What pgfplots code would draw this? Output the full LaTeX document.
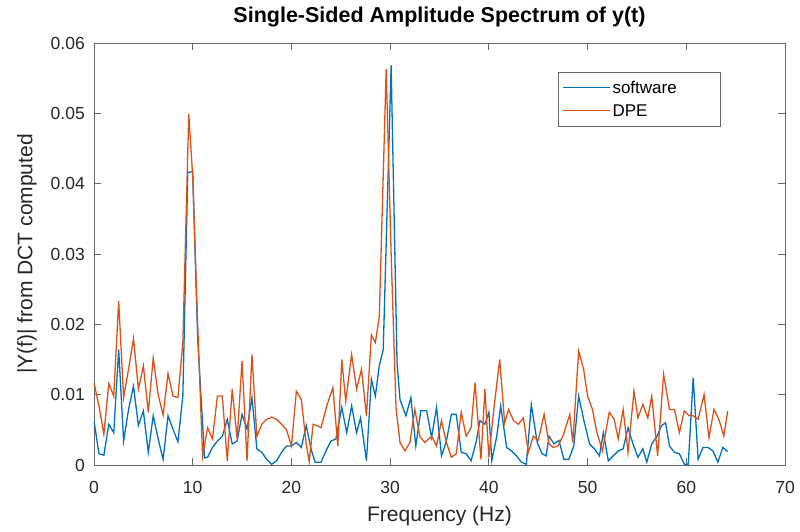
\documentclass[border=0pt]{standalone}
\usepackage{fontspec}
\setmainfont{Liberation Sans}
\usepackage{pgfplots}
\pgfplotsset{compat=1.18}
\definecolor{mblue}{rgb}{0,0.447,0.741}
\definecolor{morange}{rgb}{0.850,0.325,0.098}
\definecolor{axgray}{rgb}{0.15,0.15,0.15}
\pgfplotsset{
  softstyle/.style={color=mblue, line width=1.3pt},
  dpestyle/.style={color=morange, line width=1.3pt},
  legend image code/.code={\path (0pt,0pt) -- (47pt,0pt); \draw[#1, line width=1.3pt] (8pt,0pt) -- (47pt,0pt);},
}
\begin{document}
\begin{tikzpicture}
\useasboundingbox (-94pt,-66pt) rectangle (706pt,465pt);
\begin{axis}[
  at={(0pt,0pt)}, anchor=south west,
  scale only axis, width=691pt, height=422pt,
  xmin=0, xmax=70, ymin=0, ymax=0.06,
  xtick={0,10,20,30,40,50,60,70},
  ytick={0,0.01,0.02,0.03,0.04,0.05,0.06},
  yticklabels={0,0.01,0.02,0.03,0.04,0.05,0.06},
  scaled y ticks=false,
  /pgf/number format/assume math mode=true,
  tick pos=both, tick align=inside,
  major tick length=7pt,
  axis line style={draw=axgray!70, line width=0.8pt},
  every tick/.style={draw=axgray!70, line width=0.8pt},
  tick label style={font=\fontsize{17.5}{20}\selectfont, text=axgray},
  xticklabel style={anchor=base, yshift=-28.3pt, inner sep=0pt},
  yticklabel style={anchor=east, xshift=-9pt, inner sep=0pt},
  title={\bfseries Single-Sided Amplitude Spectrum of y(t)},
  title style={font=\fontsize{21.5}{24}\selectfont, text=black, at={(axis description cs:0.5,1)}, anchor=base, yshift=14.7pt, inner sep=0pt},
  xlabel={Frequency (Hz)},
  xlabel style={font=\fontsize{21}{24}\selectfont, text=axgray, at={(axis description cs:0.5,0)}, anchor=base, yshift=-56.7pt, inner sep=0pt},
  ylabel={|Y(f)| from DCT computed},
  ylabel style={font=\fontsize{21}{24}\selectfont, text=axgray, at={(axis description cs:-0.0825,0.5)}, anchor=south, inner sep=0pt},
  legend cell align=left,
  legend style={at={(rel axis cs:0.6715,0.9313)}, anchor=north west,
    draw=axgray!70, inner sep=4pt,
    font=\fontsize{17}{20}\selectfont,
    nodes={text height=15pt, text depth=4pt, inner sep=2pt, text width=102pt, text=black}},
]
\addplot[softstyle] coordinates {
(0.0,0.0063)(0.5,0.0016)(1.0,0.0014)(1.5,0.0058)(2.0,0.0046)(2.5,0.0164)(3.0,0.0034)(3.5,0.0079)
(4.0,0.0112)(4.5,0.0056)(5.0,0.0077)(5.5,0.0018)(6.0,0.0070)(6.5,0.0037)(7.0,0.0008)(7.5,0.0070)
(8.0,0.0051)(8.5,0.0033)(9.0,0.0098)(9.5,0.0416)(10.0,0.0417)(10.5,0.0180)(11.2,0.0010)(11.5,0.0011)
(12.0,0.0025)(12.5,0.0034)(13.0,0.0041)(13.5,0.0065)(14.0,0.0030)(14.5,0.0034)(15.0,0.0072)(15.5,0.0051)
(16.0,0.0096)(16.5,0.0023)(17.0,0.0018)(17.5,0.0008)(18.0,0.0001)(18.5,0.0006)(19.0,0.0018)(19.5,0.0027)
(20.0,0.0027)(20.5,0.0032)(21.0,0.0025)(21.5,0.0056)(22.0,0.0022)(22.4,0.0004)(23.0,0.0004)(23.5,0.0020)
(24.0,0.0034)(24.5,0.0037)(25.1,0.0082)(25.6,0.0046)(26.1,0.0084)(26.6,0.0046)(27.0,0.0067)(27.6,0.0006)
(28.1,0.0122)(28.5,0.0098)(28.9,0.0141)(29.3,0.0164)(30.1,0.0568)(30.7,0.0145)(31.0,0.0093)(31.6,0.0070)
(32.1,0.0096)(32.6,0.0027)(33.1,0.0077)(33.7,0.0077)(34.2,0.0039)(34.7,0.0082)(35.2,0.0013)(35.7,0.0034)
(36.2,0.0072)(36.7,0.0072)(37.2,0.0018)(37.7,0.0016)(38.2,0.0006)(38.7,0.0032)(39.1,0.0063)(39.6,0.0058)
(40.0,0.0075)(40.3,0.0006)(40.8,0.0041)(41.2,0.0084)(41.8,0.0025)(42.3,0.0020)(42.8,0.0013)(43.3,0.0004)
(43.8,0.0001)(44.3,0.0086)(44.9,0.0032)(45.4,0.0016)(45.8,0.0013)(46.1,0.0041)(46.6,0.0030)(47.1,0.0035)
(47.6,0.0008)(48.1,0.0008)(48.6,0.0027)(49.1,0.0098)(49.6,0.0065)(50.2,0.0030)(50.7,0.0023)(51.2,0.0013)
(51.6,0.0046)(52.1,0.0006)(52.6,0.0013)(53.1,0.0020)(53.6,0.0023)(54.1,0.0053)(54.6,0.0030)(55.1,0.0011)
(55.6,0.0023)(56.0,0.0004)(56.5,0.0030)(57.0,0.0040)(57.5,0.0056)(57.9,0.0060)(58.3,0.0027)(58.8,0.0018)
(59.3,0.0016)(59.8,0.0001)(60.2,0.0001)(60.7,0.0124)(61.2,0.0008)(61.7,0.0025)(62.2,0.0025)(62.7,0.0020)
(63.2,0.0004)(63.7,0.0025)(64.2,0.0019)
};
\addlegendentry{software}
\addplot[dpestyle] coordinates {
(0.0,0.0117)(0.5,0.0084)(1.0,0.0044)(1.5,0.0116)(2.0,0.0098)(2.5,0.0233)(3.0,0.0096)(3.5,0.0136)
(4.0,0.0180)(4.5,0.0108)(5.0,0.0141)(5.5,0.0075)(6.0,0.0152)(6.5,0.0100)(7.0,0.0071)(7.5,0.0130)
(8.0,0.0098)(8.5,0.0096)(9.0,0.0174)(9.6,0.0499)(10.0,0.0410)(10.5,0.0200)(11.0,0.0012)(11.5,0.0053)
(12.0,0.0037)(12.5,0.0098)(13.0,0.0098)(13.5,0.0006)(14.0,0.0108)(14.5,0.0037)(15.0,0.0148)(15.5,0.0006)
(16.0,0.0157)(16.5,0.0041)(17.0,0.0058)(17.5,0.0065)(18.0,0.0068)(18.5,0.0065)(19.0,0.0058)(19.5,0.0050)
(20.0,0.0027)(20.5,0.0105)(21.0,0.0093)(21.5,0.0030)(21.8,0.0005)(22.2,0.0058)(22.6,0.0056)(23.0,0.0053)
(23.6,0.0085)(24.2,0.0110)(24.7,0.0027)(25.1,0.0150)(25.5,0.0091)(26.1,0.0157)(26.6,0.0108)(27.1,0.0136)
(27.6,0.0070)(28.1,0.0185)(28.5,0.0174)(28.9,0.0211)(29.6,0.0563)(30.1,0.0300)(30.6,0.0080)(31.0,0.0032)
(31.5,0.0020)(32.0,0.0032)(32.5,0.0079)(33.0,0.0041)(33.5,0.0032)(34.2,0.0041)(34.7,0.0027)(35.2,0.0063)
(35.7,0.0032)(36.2,0.0011)(36.7,0.0016)(37.2,0.0075)(37.7,0.0041)(38.2,0.0053)(38.6,0.0117)(39.2,0.0008)
(39.6,0.0108)(40.0,0.0011)(40.5,0.0079)(41.1,0.0150)(41.6,0.0060)(42.0,0.0079)(42.5,0.0063)(43.0,0.0058)
(43.5,0.0067)(44.0,0.0018)(44.5,0.0041)(45.0,0.0035)(45.6,0.0072)(46.1,0.0030)(46.5,0.0025)(47.0,0.0027)
(47.5,0.0041)(48.2,0.0072)(48.5,0.0032)(49.1,0.0162)(49.6,0.0136)(50.0,0.0098)(50.5,0.0079)(50.9,0.0049)
(51.5,0.0020)(52.2,0.0075)(52.7,0.0065)(53.1,0.0037)(53.6,0.0079)(54.1,0.0018)(54.7,0.0105)(55.1,0.0067)
(55.6,0.0086)(56.1,0.0067)(56.5,0.0098)(57.1,0.0013)(57.7,0.0129)(58.3,0.0079)(58.8,0.0079)(59.3,0.0046)
(59.8,0.0077)(60.3,0.0070)(60.7,0.0070)(61.2,0.0065)(61.8,0.0100)(62.3,0.0039)(62.8,0.0079)(63.3,0.0065)
(63.8,0.0041)(64.2,0.0077)
};
\addlegendentry{DPE}
\end{axis}
\end{tikzpicture}
\end{document}
